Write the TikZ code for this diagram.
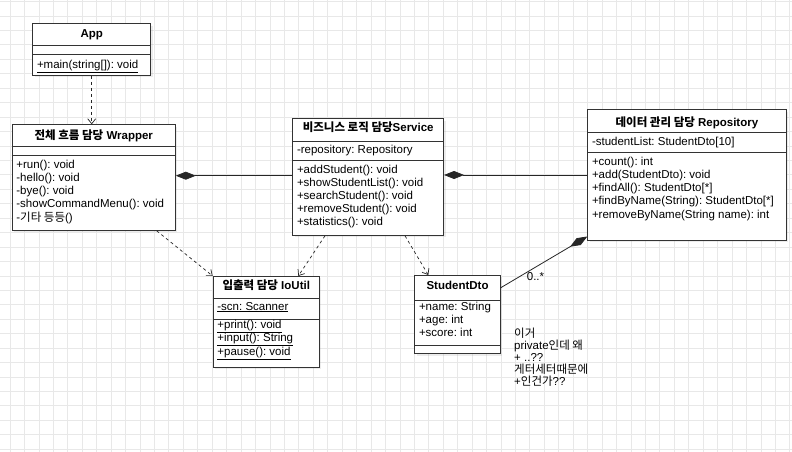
\documentclass[tikz,border=0pt]{standalone}
\usepackage{fontspec}
\setmainfont{Liberation Sans}
\newfontfamily\kr{Noto Sans CJK KR}
\usetikzlibrary{arrows.meta, shadows}
\frenchspacing

\newcommand\umlfont{\fontsize{11.5pt}{13.3pt}\selectfont}

\tikzset{
  gridln/.style={draw=black!9, line width=0.7pt},
  cls/.style={draw=black!80, fill=white, line width=0.8pt, anchor=north west, inner sep=0pt,
    drop shadow={shadow xshift=2pt, shadow yshift=-2pt, opacity=0.15}},
  sep/.style={draw=black!80, line width=0.8pt},
  ttl/.style={font=\umlfont\bfseries, anchor=base, inner sep=0pt},
  mem/.style={font=\umlfont, align=left, anchor=base west, inner sep=0pt, xshift=4.5pt},
  dep/.style={draw=black!85, line width=0.7pt, dash pattern=on 3pt off 3pt,
    -{Straight Barb[length=5pt, width=8pt]}},
  comp/.style={draw=black!85, line width=0.8pt, -{Diamond[length=20pt, width=8pt]}},
}

\begin{document}
\begin{tikzpicture}[x=1pt, y=-1pt]
  \useasboundingbox[fill=white] (0,0) rectangle (792,452);
  % background grid
  \foreach \i in {0,...,54}
    \draw[gridln] ({10+14.44*\i},0) -- ({10+14.44*\i},452);
  \foreach \i in {0,...,31}
    \draw[gridln] (0,{1.5+14.44*\i}) -- (792,{1.5+14.44*\i});

  % classes
  \node[cls, minimum width=118pt, minimum height=51.7pt] (app) at (32.3,23.3) {};
  \node[cls, minimum width=163.3pt, minimum height=105.7pt] (wrapper) at (11.7,124.3) {};
  \node[cls, minimum width=151pt, minimum height=116.7pt] (service) at (292.3,118.3) {};
  \node[cls, minimum width=198.4pt, minimum height=130.7pt] (repo) at (587.3,109.3) {};
  \node[cls, minimum width=106.3pt, minimum height=90.7pt] (ioutil) at (212.7,276) {};
  \node[cls, minimum width=85.7pt, minimum height=78.3pt] (dto) at (414.3,275) {};

  % compartments
  \foreach \b/\ya/\yb in {app/45.7/54.3, wrapper/146.7/155, service/141.7/160,
                          repo/132.7/152.3, ioutil/298.7/319.3, dto/300/345} {
    \draw[sep] (\b.west |- 0,\ya) -- (\b.east |- 0,\ya);
    \draw[sep] (\b.west |- 0,\yb) -- (\b.east |- 0,\yb);
  }

  % titles
  \node[ttl] (appT) at (app.north |- 0,37.7) {App};
  \node[ttl] (wrapperT) at (wrapper.north |- 0,139.3) {{\kr 전체 흐름 담당} Wrapper};
  \node[ttl] (serviceT) at (service.north |- 0,131.7) {{\kr 비즈니스 로직 담당}Service};
  \node[ttl] (repoT) at (repo.north |- 0,126) {{\kr 데이터 관리 담당} Repository};
  \node[ttl] (ioutilT) at (ioutil.north |- 0,289) {{\kr 입출력 담당} IoUtil};
  \node[ttl] (dtoT) at (dto.north |- 0,289.3) {StudentDto};

  % members (base = last line)
  \node[mem] (appM) at (app.west |- 0,68.3) {\underline{+main(string[]): void}};
  \node[mem, font=\fontsize{11.5pt}{13.2pt}\selectfont] (wrapperM) at (wrapper.west |- 0,221.1)
    {+run(): void\\-hello(): void\\-bye(): void\\-showCommandMenu(): void\\-{\kr 기타 등등}()};
  \node[mem] (serviceA) at (service.west |- 0,153.3) {-repository: Repository};
  \node[mem, font=\fontsize{11.5pt}{13pt}\selectfont] (serviceM) at (service.west |- 0,225.3)
    {+addStudent(): void\\+showStudentList(): void\\+searchStudent(): void\\+removeStudent(): void\\+statistics(): void};
  \node[mem] (repoA) at (repo.west |- 0,145.7) {-studentList: StudentDto[10]};
  \node[mem] (repoM) at (repo.west |- 0,218.2)
    {+count(): int\\+add(StudentDto): void\\+findAll(): StudentDto[*]\\+findByName(String): StudentDto[*]\\+removeByName(String name): int};
  \node[mem] (ioutilA) at (ioutil.west |- 0,310) {\underline{-scn: Scanner}};
  \node[mem, font=\fontsize{11.5pt}{12pt}\selectfont] (ioutilM) at (ioutil.west |- 0,355.5)
    {\underline{+print(): void}\\\underline{+input(): String}\\\underline{+pause(): void}};
  \node[mem] (dtoA) at (dto.west |- 0,336.6)
    {+name: String\\+age: int\\+score: int};

  % note
  \node[font=\fontsize{11.5pt}{12pt}\selectfont, align=left, anchor=base west, inner sep=0pt] (note) at (514,385.5)
    {{\kr 이거}\\private{\kr 인데 왜}\\+ ..??\\{\kr 게터세터때문에}\\+{\kr 인건가}??};

  % relations
  \draw[dep] (app.south) -- (app.south |- wrapper.north);
  \draw[dep] ([xshift=145pt]wrapper.south west) -- (ioutil.north west);
  \draw[dep] ([xshift=32.7pt]service.south west) -- ([xshift=85.6pt]ioutil.north west);
  \draw[dep] ([xshift=112.7pt]service.south west) -- ([xshift=14pt]dto.north west);
  \draw[comp] (service.west |- 0,175.7) -- (wrapper.east |- 0,175.7);
  \draw[comp] (repo.west |- 0,175) -- (service.east |- 0,175);
  \draw[comp] ([yshift=-12.7pt]dto.north east) -- ([yshift=4.3pt]repo.south west);
  \node[font=\umlfont, anchor=base, inner sep=0pt] (mult) at (535.5,280.7) {0..*};
\end{tikzpicture}
\end{document}
